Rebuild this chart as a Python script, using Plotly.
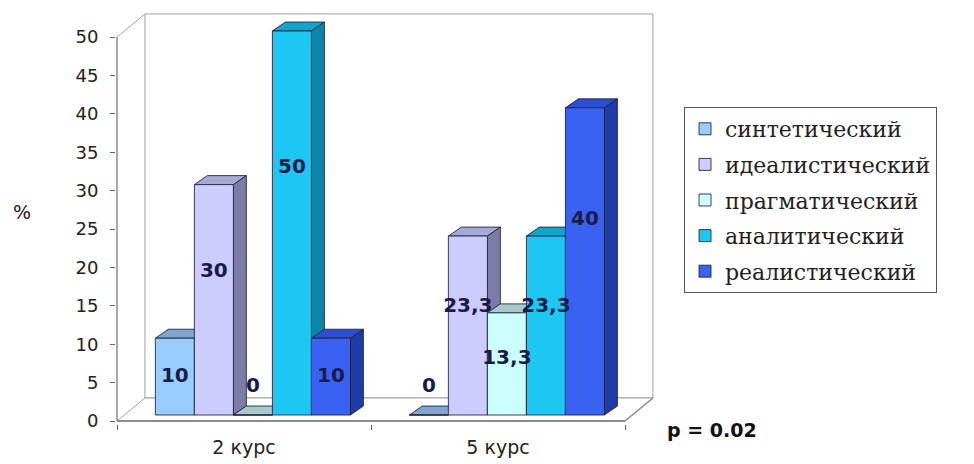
import plotly.graph_objects as go

# ---------------- data ----------------
categories = ["2 курс", "5 курс"]
series_names = ["синтетический", "идеалистический", "прагматический", "аналитический", "реалистический"]
sintet = [10, 0]
ideal = [30, 23.3]
pragm = [0, 13.3]
analit = [50, 23.3]
real = [10, 40]
y_ticks = [0, 5, 10, 15, 20, 25, 30, 35, 40, 45, 50]
y_title = "%"
p_text = "p = 0.02"

series_values = [sintet, ideal, pragm, analit, real]

# ---------------- style ----------------
front_colors = ["#99CCFF", "#CCCCFF", "#CCFFFF", "#1CC8F2", "#3A62F2"]
top_colors = ["#7FA6CF", "#A9A9D6", "#A6C9C9", "#0FA6CC", "#2B4FD0"]
side_colors = ["#5F86B0", "#7C7CA6", "#7FA3A3", "#0A86A8", "#1F3BA6"]
outline = "rgba(30,30,60,0.85)"

W, H = 974, 464
PXX, PXY = 254.0, 7.68          # pixels per x unit / y unit
ML, MR, MT, MB = 116, 314, 10, 40
x0_px = 117                      # px of x = -0.5
y0_px = 421                      # px of y = 0
plot_w = W - ML - MR
plot_h = H - MT - MB
x_rng = [-0.5 - (x0_px - ML) / PXX, -0.5 + (ML + plot_w - x0_px) / PXX]
y_rng = [-(MT + plot_h - y0_px) / PXY, (y0_px - MT) / PXY]

# bars drawn at mid depth: shifted right / up
bx_shift, by_shift = 0.035, 0.78
x2_rng = [x_rng[0] - bx_shift, x_rng[1] - bx_shift]
y2_rng = [y_rng[0] - by_shift, y_rng[1] - by_shift]

bargap = 0.232
nser = len(series_names)
bw = (1 - bargap) / nser
ddx, ddy = 0.051, 1.17           # bar depth
DX, DY = 0.11, 3.0               # wall depth
ymax = y_ticks[-1]

fig = go.Figure()
xs = list(range(len(categories)))
for j, (name, vals) in enumerate(zip(series_names, series_values)):
    fig.add_trace(go.Bar(
        x=xs, y=vals, name=name, legendgroup=name,
        marker=dict(color=front_colors[j], line=dict(color=outline, width=1)),
        xaxis="x2", yaxis="y2", hoverinfo="skip",
    ))

# value labels
lx, ly, lt = [], [], []
for j, vals in enumerate(series_values):
    for i, v in enumerate(vals):
        lx.append(i + (j - (nser - 1) / 2) * bw)
        ly.append(max(0.5 * v + 0.18 * max(v - 10, 0), 3.6))
        lt.append(f"{v:g}".replace(".", ","))
fig.add_trace(go.Scatter(
    x=lx, y=ly, text=lt, mode="text", showlegend=False, hoverinfo="skip",
    textfont=dict(family="DejaVu Sans", size=20, color="#1B1B4B", weight="bold"),
    xaxis="x2", yaxis="y2",
))

shapes = []
wall = dict(color="#A0A0A0", width=1)
# back wall
shapes.append(dict(type="rect", xref="x", yref="y", x0=-0.5 + DX, x1=1.5 + DX, y0=DY, y1=ymax + DY,
                   line=wall, fillcolor="white", layer="below"))
# floor
shapes.append(dict(type="path", xref="x", yref="y", layer="below", line=wall, fillcolor="white",
                   path=f"M{-0.5},{0} L{1.5},{0} L{1.5 + DX},{DY} L{-0.5 + DX},{DY} Z"))
# left wall diagonal
shapes.append(dict(type="line", xref="x", yref="y", x0=-0.5, y0=ymax, x1=-0.5 + DX, y1=ymax + DY,
                   line=wall, layer="below"))

# 3D faces of bars
for j, vals in enumerate(series_values):
    for i, v in enumerate(vals):
        xl = i + (j - nser / 2) * bw
        xr = xl + bw
        shapes.append(dict(type="path", xref="x2", yref="y2", layer="below",
                           fillcolor=top_colors[j], line=dict(color=outline, width=1),
                           path=f"M{xl},{v} L{xr},{v} L{xr + ddx},{v + ddy} L{xl + ddx},{v + ddy} Z"))
        if v > 0:
            shapes.append(dict(type="path", xref="x2", yref="y2", layer="below",
                               fillcolor=side_colors[j], line=dict(color=outline, width=1),
                               path=f"M{xr},{0} L{xr},{v} L{xr + ddx},{v + ddy} L{xr + ddx},{ddy} Z"))

# front axes lines
shapes.append(dict(type="line", xref="x", yref="y", x0=-0.5, y0=0, x1=-0.5, y1=ymax,
                   line=dict(color="#555555", width=1), layer="above"))
shapes.append(dict(type="line", xref="x", yref="y", x0=-0.5, y0=0, x1=1.5, y1=0,
                   line=dict(color="#8C8C8C", width=2), layer="above"))
shapes.append(dict(type="line", xref="x", yref="y", x0=1.5, y0=0, x1=1.5 + DX, y1=DY,
                   line=dict(color="#8C8C8C", width=1.5), layer="above"))

fig.update_layout(
    width=W, height=H,
    margin=dict(l=ML, r=MR, t=MT, b=MB, autoexpand=False),
    paper_bgcolor="white", plot_bgcolor="white",
    barmode="group", bargap=bargap, bargroupgap=0,
    shapes=shapes,
    font=dict(family="DejaVu Sans", size=19, color="#222222"),
    xaxis=dict(range=x_rng, tickmode="array", tickvals=xs, ticktext=categories,
               showgrid=False, zeroline=False, showline=False,
               ticks="outside", ticklen=6, tickcolor="rgba(0,0,0,0)",
               minor=dict(tickmode="array", tickvals=[-0.5, 0.5, 1.5], ticks="outside",
                          ticklen=5, tickcolor="#666666", showgrid=False),
               tickfont=dict(family="DejaVu Sans", size=19, color="#222222"), fixedrange=True),
    yaxis=dict(range=y_rng, tickmode="array", tickvals=y_ticks,
               showgrid=False, zeroline=False, showline=False,
               ticks="outside", ticklen=5, tickcolor="#666666", ticklabelstandoff=8,
               tickfont=dict(family="DejaVu Sans", size=18, color="#222222"), fixedrange=True),
    xaxis2=dict(range=x2_rng, overlaying="x", anchor="y2", visible=False, fixedrange=True),
    yaxis2=dict(range=y2_rng, overlaying="y", anchor="x2", visible=False, fixedrange=True),
    legend=dict(x=(684 - ML) / plot_w, y=(MT + plot_h - 107) / plot_h, xanchor="left", yanchor="top",
                bordercolor="#555555", borderwidth=1, bgcolor="white",
                font=dict(family="DejaVu Serif", size=22, color="#222222"),
                tracegroupgap=4, traceorder="grouped"),
    annotations=[
        dict(text=y_title, xref="paper", yref="paper", x=(22 - ML) / plot_w, y=(MT + plot_h - 212) / plot_h,
             xanchor="center", yanchor="middle",
             showarrow=False, font=dict(family="DejaVu Sans", size=19, color="#222222")),
        dict(text=p_text, xref="paper", yref="paper", x=(712 - ML) / plot_w, y=(MT + plot_h - 430) / plot_h,
             xanchor="center", yanchor="middle",
             showarrow=False, font=dict(family="DejaVu Sans", size=19, color="#111111", weight="bold")),
    ],
)

fig.write_html("out.html", config={"displayModeBar": False},
               post_script="document.body.style.margin='0px';")
